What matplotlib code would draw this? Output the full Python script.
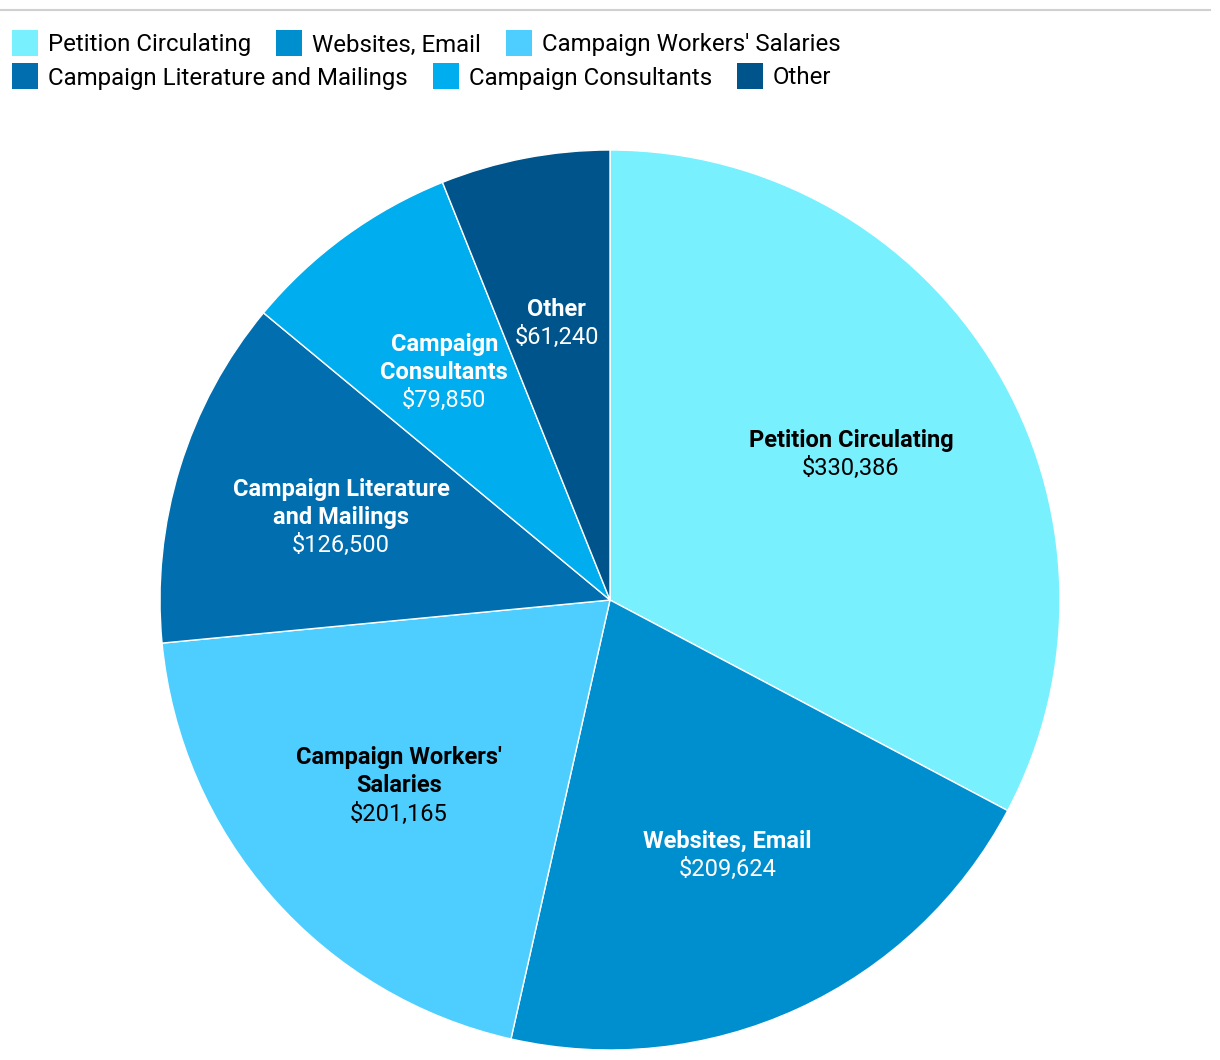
import matplotlib.pyplot as plt
from matplotlib.patches import Rectangle
import numpy as np

plt.rcParams["font.family"] = ["Roboto", "DejaVu Sans"]

# data
categories = ["Petition Circulating", "Websites, Email", "Campaign Workers' Salaries",
              "Campaign Literature and Mailings", "Campaign Consultants", "Other"]
slice_labels = ["Petition Circulating", "Websites, Email", "Campaign Workers'\nSalaries",
                "Campaign Literature\nand Mailings", "Campaign\nConsultants", "Other"]
values = [330386, 209624, 201165, 126500, 79850, 61240]
colors = ["#78f0fe", "#008fce", "#4ecefe", "#006eaf", "#00adee", "#00548c"]
text_colors = ["black", "white", "black", "white", "white", "white"]

W, H = 1220, 1060
fig = plt.figure(figsize=(W / 100, H / 100), dpi=100)

# pie axes: centre (610, 600), radius 450 px
cx, cy, r = 610, 600, 450
ax = fig.add_axes([(cx - r) / W, (H - cy - r) / H, 2 * r / W, 2 * r / H])
wedges, _ = ax.pie(values, colors=colors, startangle=90, counterclock=False,
                   wedgeprops=dict(edgecolor="white", linewidth=1))
ax.set_xlim(-1, 1)
ax.set_ylim(-1, 1)
ax.set_aspect("equal")
ax.axis("off")

lh = 28 / r  # line height in data units
for w, lab, val, tc in zip(wedges, slice_labels, values, text_colors):
    ang = np.deg2rad((w.theta1 + w.theta2) / 2)
    x, y = 0.625 * np.cos(ang), 0.625 * np.sin(ang)
    lines = lab.split("\n")
    top = y + len(lines) * lh / 2
    # bold name lines, regular value line
    for i, line in enumerate(lines):
        ax.text(x, top - i * lh, line, ha="center", va="center", fontsize=17,
                fontweight="bold", color=tc)
    ax.text(x, top - len(lines) * lh, "${:,}".format(val), ha="center", va="center",
            fontsize=17, color=tc)

# top rule
fig.add_artist(plt.Line2D([0, 1210 / W], [1 - 10 / H, 1 - 10 / H], color="#d0d0d0", lw=1.5))

# legend, flowing layout
fig.canvas.draw()
renderer = fig.canvas.get_renderer()
rows = [[0, 1, 2], [3, 4, 5]]
row_y = [43, 76]
for row, yc in zip(rows, row_y):
    x0 = 12
    for i in row:
        fig.add_artist(Rectangle((x0 / W, 1 - (yc + 13) / H), 26 / W, 26 / H,
                                 facecolor=colors[i], edgecolor="none",
                                 transform=fig.transFigure))
        t = fig.text((x0 + 36) / W, 1 - (yc + 2) / H, categories[i], fontsize=17.3,
                     va="center", ha="left", color="black")
        bb = t.get_window_extent(renderer)
        x0 = x0 + 36 + bb.width + 25

fig.savefig("out.png", dpi=100)
